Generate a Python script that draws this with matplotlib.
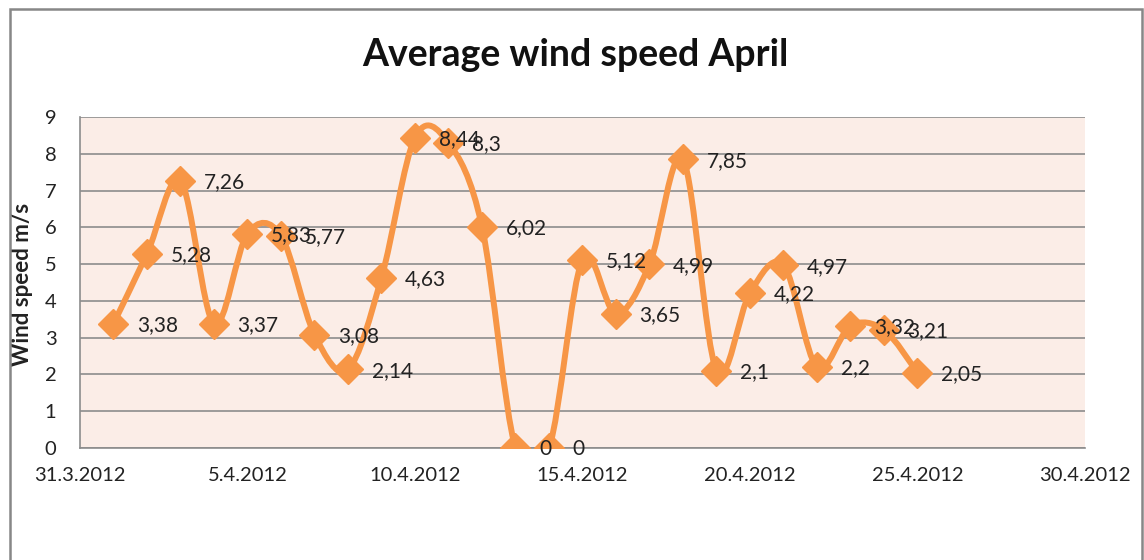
import numpy as np
import matplotlib
matplotlib.use("Agg")
import matplotlib.pyplot as plt
import matplotlib.dates as mdates
from matplotlib.path import Path
from matplotlib.patches import PathPatch, Rectangle

# ── Datos ──────────────────────────────────────────────────────────────────
dates = np.arange(np.datetime64("2012-04-01"), np.datetime64("2012-04-26"))
speeds = [3.38, 5.28, 7.26, 3.37, 5.83, 5.77, 3.08, 2.14, 4.63, 8.44,
          8.3, 6.02, 0, 0, 5.12, 3.65, 4.99, 7.85, 2.1, 4.22,
          4.97, 2.2, 3.32, 3.21, 2.05]
tick_dates = np.arange(np.datetime64("2012-03-31"), np.datetime64("2012-05-01"), 5)
tick_labels = ["31.3.2012", "5.4.2012", "10.4.2012", "15.4.2012",
               "20.4.2012", "25.4.2012", "30.4.2012"]

ORANGE = "#f79646"
BG = "#fbede7"
TXT = "#222222"
plt.rcParams["font.family"] = ["Lato", "DejaVu Sans"]

fig = plt.figure(figsize=(11.44, 5.6), dpi=100)
fig.add_artist(Rectangle((10 / 1144, -0.05), 1132 / 1144, 1.05 - 9 / 560,
                         transform=fig.transFigure, fill=False,
                         edgecolor="#878787", linewidth=1.8))
ax = fig.add_axes([80 / 1144, 1 - 448 / 560, 1005 / 1144, 331 / 560])
ax.set_facecolor(BG)

x = mdates.date2num(dates.astype("datetime64[D]").astype(object))
y = np.array(speeds, dtype=float)

# línea suavizada tipo Excel (Bezier con puntos de control Catmull-Rom)
pts = np.column_stack([x, y])
verts = [pts[0]]
codes = [Path.MOVETO]
n = len(pts)
for i in range(n - 1):
    p0 = pts[i - 1] if i > 0 else pts[i]
    p1, p2 = pts[i], pts[i + 1]
    p3 = pts[i + 2] if i + 2 < n else pts[i + 1]
    verts += [p1 + (p2 - p0) / 6, p2 - (p3 - p1) / 6, p2]
    codes += [Path.CURVE4] * 3
ax.add_patch(PathPatch(Path(verts, codes), facecolor="none",
                       edgecolor=ORANGE, linewidth=4.3, capstyle="round",
                       joinstyle="round", zorder=3))
ax.plot(x, y, linestyle="none", marker="D", markersize=15.5,
        color=ORANGE, zorder=4)

# etiquetas de datos (se solapan igual que en el original)
for xi, yi in zip(x, speeds):
    lab = f"{yi:g}".replace(".", ",")
    ax.annotate(lab, (xi, yi), xytext=(17, -1), textcoords="offset points",
                ha="left", va="center", fontsize=15, color=TXT, zorder=5)

ax.set_xlim(mdates.date2num(tick_dates[0].astype(object)),
            mdates.date2num(tick_dates[-1].astype(object)))
ax.set_ylim(0, 9)
ax.set_yticks(range(10))
ax.set_xticks(mdates.date2num(tick_dates.astype(object)))
ax.set_xticklabels(tick_labels)
ax.tick_params(length=0, labelsize=14.5, colors=TXT)
ax.tick_params(axis="x", pad=14)
ax.tick_params(axis="y", pad=17)
ax.yaxis.grid(True, color="#8c8c8c", linewidth=1.2)
ax.set_axisbelow(True)
for side in ("top", "right"):
    ax.spines[side].set_visible(False)
for side in ("left", "bottom"):
    ax.spines[side].set_color("#8c8c8c")
    ax.spines[side].set_linewidth(1.2)

ax.set_ylabel("Wind speed m/s", fontsize=16, fontweight="bold", color=TXT)
ax.yaxis.set_label_coords(-47 / 1005, 0.495)
fig.text(0.503, 1 - 55 / 560, "Average wind speed April", ha="center",
         va="center", fontsize=27, fontweight="bold", color="#111111")

fig.savefig("out.png", dpi=100)
